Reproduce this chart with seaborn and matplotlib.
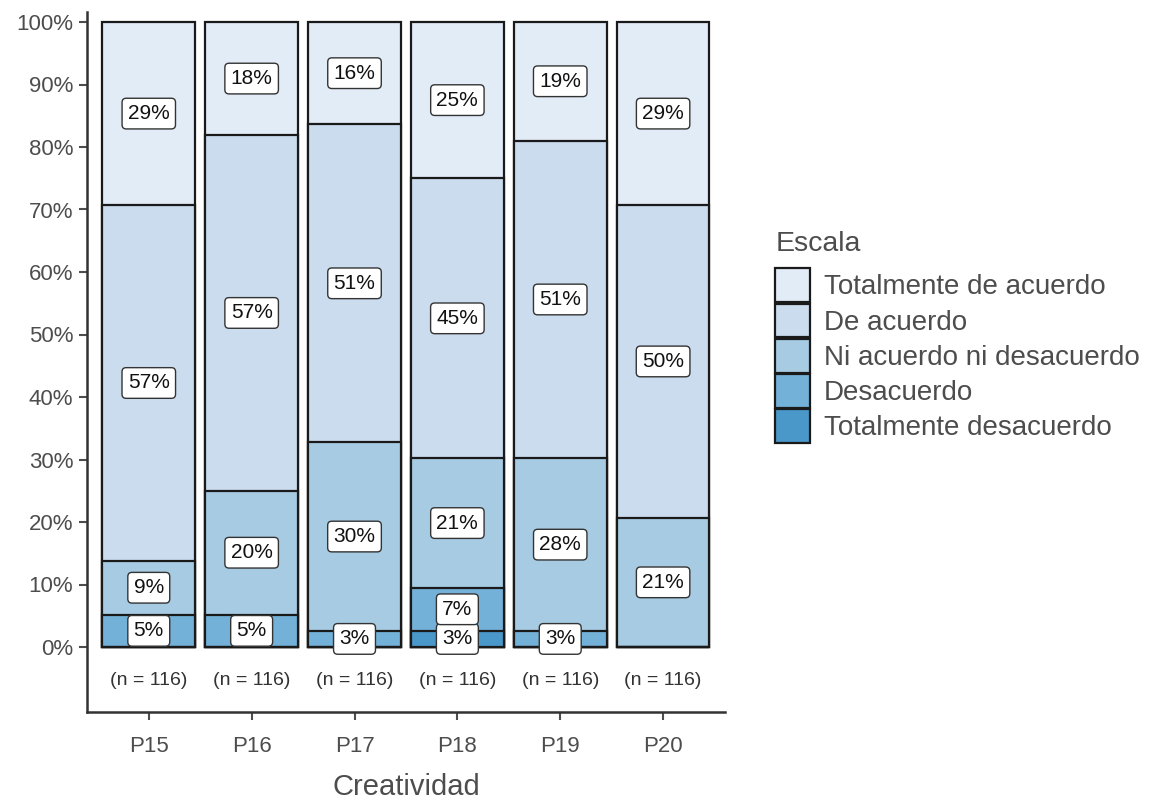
import matplotlib
matplotlib.use("Agg")
import matplotlib.pyplot as plt
from matplotlib.patches import Patch
import numpy as np
import pandas as pd
import seaborn as sns

# answer counts per item (n = 116), bottom to top of the stack
items = ["P15", "P16", "P17", "P18", "P19", "P20"]
levels = ["Totalmente desacuerdo", "Desacuerdo", "Ni acuerdo ni desacuerdo",
          "De acuerdo", "Totalmente de acuerdo"]
tot_desacuerdo = [0, 0, 0, 3, 0, 0]
desacuerdo = [6, 6, 3, 8, 3, 0]
ni_ni = [10, 23, 35, 24, 32, 24]
de_acuerdo = [66, 66, 59, 52, 59, 58]
tot_acuerdo = [34, 21, 19, 29, 22, 34]
colors = ["#4a97c9", "#74b1d8", "#a6cbe3", "#cadcee", "#e1ecf7"]

counts = np.array([tot_desacuerdo, desacuerdo, ni_ni, de_acuerdo, tot_acuerdo], dtype=float)
n = counts.sum(axis=0)
pct = counts / n
cum = pct.cumsum(axis=0)

sns.set_style("ticks")
plt.rcParams["font.family"] = ["Liberation Sans", "DejaVu Sans"]
txt = "#4d4d4d"

fig = plt.figure(figsize=(11.67, 8), dpi=100)
ax = fig.add_axes([0.0746, 0.11, 0.5465, 0.875])

# overlapping cumulative bars, top level first
for i in range(len(levels) - 1, -1, -1):
    df = pd.DataFrame({"item": items, "value": cum[i]})
    sns.barplot(data=df, x="item", y="value", color=colors[i], width=0.9,
                edgecolor="#1a1a1a", linewidth=1.6, saturation=1, ax=ax)

# segment labels
for j in range(len(items)):
    for i in range(len(levels)):
        if counts[i, j] == 0:
            continue
        mid = cum[i, j] - pct[i, j] / 2
        ax.text(j, mid, f"{round(pct[i, j] * 100)}%", ha="center", va="center",
                fontsize=15, color="#111111",
                bbox=dict(boxstyle="round,pad=0.28,rounding_size=0.2", fc="white",
                          ec="#333333", lw=1))
    ax.text(j, -0.053, f"(n = {int(n[j])})", ha="center", va="center",
            fontsize=14, color="#333333")

ax.set_xlim(-0.6, 5.6)
ax.set_ylim(-0.104, 1.016)
ax.set_yticks(np.arange(0, 1.01, 0.1))
ax.set_yticklabels([f"{int(v)}%" for v in np.arange(0, 101, 10)])
ax.tick_params(axis="both", labelsize=16, colors=txt, length=6, width=1.5, pad=4)
ax.tick_params(axis="x", pad=11)
for s in ["left", "bottom"]:
    ax.spines[s].set_linewidth(1.8)
    ax.spines[s].set_color("#333333")
sns.despine(ax=ax)
ax.set_xlabel("Creatividad", fontsize=21, color=txt, labelpad=12)
ax.set_ylabel("")

handles = [Patch(facecolor=colors[i], edgecolor="#1a1a1a", linewidth=1.6)
           for i in range(len(levels) - 1, -1, -1)]
leg = fig.legend(handles, levels[::-1], title="Escala", loc="upper left",
                 bbox_to_anchor=(0.655, 0.725), frameon=False, fontsize=20,
                 title_fontsize=20.5, handlelength=1.25, handleheight=1.5,
                 labelspacing=0.05, handletextpad=0.5, borderaxespad=0)
leg._legend_box.align = "left"
leg._legend_box.sep = 8
for t in leg.get_texts():
    t.set_color(txt)
leg.get_title().set_color(txt)

fig.savefig("out.png", dpi=100)
